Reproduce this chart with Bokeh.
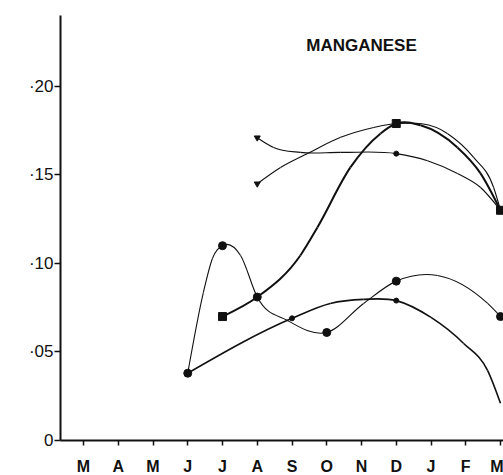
from bokeh.plotting import figure
from bokeh.models import FixedTicker, Label, ColumnDataSource, Range1d
from bokeh.embed import file_html
from bokeh.resources import INLINE

# ---- data (month index 0 = March ... 12 = March of next year) ----
month_labels = ["M", "A", "M", "J", "J", "A", "S", "O", "N", "D", "J", "F", "M"]
y_ticks = [0.0, 0.05, 0.10, 0.15, 0.20]
y_tick_labels = ["0", "\u00b705", "\u00b710", "\u00b715", "\u00b720"]

# curve traces (month index, value)
curve_a_x = [5, 5.47, 6.24, 7.4, 9, 9.9, 10.76, 11.42, 12]
curve_a_y = [0.171, 0.1655, 0.1627, 0.1627, 0.162, 0.158, 0.1508, 0.143, 0.130]

curve_b_x = [5, 5.67, 6.45, 7.4, 8.35, 9, 10.47, 11.22, 11.8, 12]
curve_b_y = [0.145, 0.1542, 0.1621, 0.1712, 0.1768, 0.179, 0.1734, 0.160, 0.143, 0.130]

curve_c_x = [4, 5, 6.24, 6.73, 7.68, 8.55, 9, 9.7, 10.76, 11.42, 12]
curve_c_y = [0.070, 0.081, 0.1045, 0.1203, 0.1542, 0.1734, 0.179, 0.178, 0.1655, 0.151, 0.130]

curve_d_x = [3, 3.45, 3.71, 4, 4.52, 5, 5.87, 7, 8.06, 9, 10.19, 11.63, 12]
curve_d_y = [0.038, 0.0836, 0.1028, 0.110, 0.1045, 0.081, 0.0678, 0.061, 0.0774, 0.090, 0.0932, 0.0774, 0.070]

curve_e_x = [3, 6, 7.1, 8.06, 9, 10, 10.94, 11.63, 12]
curve_e_y = [0.038, 0.069, 0.0774, 0.0797, 0.079, 0.0695, 0.0548, 0.0395, 0.021]

# plotted points
dot_x = [3, 4, 5, 7, 9, 12]
dot_y = [0.038, 0.110, 0.081, 0.061, 0.090, 0.070]
small_dot_x = [6, 9, 9]
small_dot_y = [0.069, 0.079, 0.162]
square_x = [4, 9, 12]
square_y = [0.070, 0.179, 0.130]
tri_x = [5, 5]
tri_y = [0.171, 0.145]

title_text = "MANGANESE"


def bezier_source(xs, ys):
    n = len(xs)
    s = [(ys[i + 1] - ys[i]) / (xs[i + 1] - xs[i]) for i in range(n - 1)]
    h = [xs[i + 1] - xs[i] for i in range(n - 1)]
    m = [0.0] * n
    for i in range(1, n - 1):
        m[i] = (h[i] * s[i - 1] + h[i - 1] * s[i]) / (h[i - 1] + h[i])
    if n > 2:
        m[0] = (3 * s[0] - m[1]) / 2
        m[-1] = (3 * s[-1] - m[-2]) / 2
    else:
        m[0] = m[-1] = s[0]
    d = dict(x0=[], y0=[], x1=[], y1=[], cx0=[], cy0=[], cx1=[], cy1=[])
    for i in range(n - 1):
        dx = h[i]
        d["x0"].append(xs[i]); d["y0"].append(ys[i])
        d["x1"].append(xs[i + 1]); d["y1"].append(ys[i + 1])
        d["cx0"].append(xs[i] + dx / 3); d["cy0"].append(ys[i] + m[i] * dx / 3)
        d["cx1"].append(xs[i + 1] - dx / 3); d["cy1"].append(ys[i + 1] - m[i + 1] * dx / 3)
    return ColumnDataSource(d)


p = figure(frame_width=443, frame_height=425,
           x_range=Range1d(-0.662, 12.086), y_range=Range1d(0, 0.240),
           output_backend="svg", toolbar_location=None,
           min_border_left=60, min_border_right=0, min_border_top=15, min_border_bottom=35)
p.background_fill_color = "white"
p.border_fill_color = "white"
p.outline_line_color = None
p.xgrid.visible = False
p.ygrid.visible = False

ink = "#111111"
for xs, ys, lw in [(curve_a_x, curve_a_y, 1.1), (curve_b_x, curve_b_y, 1.1),
                   (curve_c_x, curve_c_y, 2.0), (curve_d_x, curve_d_y, 1.1),
                   (curve_e_x, curve_e_y, 1.6)]:
    p.bezier(x0="x0", y0="y0", x1="x1", y1="y1", cx0="cx0", cy0="cy0", cx1="cx1", cy1="cy1",
             source=bezier_source(xs, ys), line_color=ink, line_width=lw)

p.scatter(dot_x, dot_y, marker="circle", size=8, color=ink)
p.scatter(small_dot_x, small_dot_y, marker="circle", size=5, color=ink)
p.scatter(square_x, square_y, marker="square", size=8, color=ink)
p.scatter(tri_x, tri_y, marker="inverted_triangle", size=6, color=ink)

# axes
xa = p.xaxis[0]
xa.ticker = FixedTicker(ticks=list(range(len(month_labels))))
xa.major_label_overrides = {i: lab for i, lab in enumerate(month_labels)}
xa.minor_tick_line_color = None
xa.major_tick_in = 0
xa.major_tick_out = 5
xa.major_label_standoff = 12
xa.axis_line_width = 2
xa.axis_line_color = ink
xa.major_tick_line_color = ink
xa.major_tick_line_width = 1.5
xa.major_label_text_font = "Liberation Sans"
xa.major_label_text_font_style = "bold"
xa.major_label_text_font_size = "16px"
xa.major_label_text_color = ink

ya = p.yaxis[0]
ya.ticker = FixedTicker(ticks=y_ticks)
ya.major_label_overrides = {v: lab for v, lab in zip(y_ticks, y_tick_labels)}
ya.minor_tick_line_color = None
ya.major_tick_in = 0
ya.major_tick_out = 6
ya.major_label_standoff = 1
ya.axis_line_width = 2
ya.axis_line_color = ink
ya.major_tick_line_color = ink
ya.major_tick_line_width = 1.5
ya.major_label_text_font = "Liberation Sans"
ya.major_label_text_font_size = "17px"
ya.major_label_text_color = ink

p.add_layout(Label(x=301, y=395, x_units="screen", y_units="screen", text=title_text,
                   text_align="center", text_baseline="middle",
                   text_font="Liberation Sans", text_font_style="bold",
                   text_font_size="17px", text_color=ink))

open("out.html", "w").write(file_html(p, INLINE))
